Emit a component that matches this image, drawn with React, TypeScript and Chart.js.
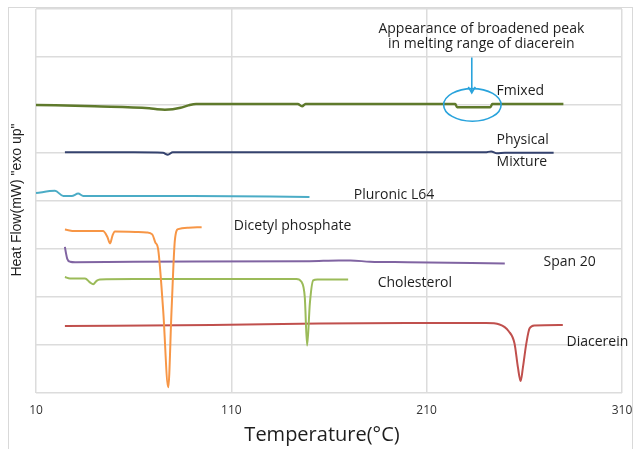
import React, { useEffect, useRef } from "react";
import { Chart, registerables } from "chart.js";

Chart.register(...registerables);

// ---- data (temperature °C, heat flow in arbitrary stacked units) ----
const xTicks = [10, 110, 210, 310];

const fmixedT = [10, 40, 68, 72, 76, 80, 84, 88, 92, 144, 146.2, 148, 224.6, 225.6, 242.6, 243.6, 280];
const fmixedV = [6.0, 5.97, 5.93, 5.91, 5.9, 5.91, 5.94, 5.99, 6.02, 6.02, 5.97, 6.02, 6.02, 5.95, 5.95, 6.02, 6.02];

const physT = [24.8, 60, 75, 77.5, 80, 150, 240, 243, 246, 250, 275];
const physV = [5.01, 5.01, 5.0, 4.96, 5.01, 5.01, 5.01, 5.03, 4.99, 5.0, 5.0];

const pluronicT = [10, 19.7, 24, 28.3, 31.6, 34.2, 90, 150];
const pluronicV = [4.16, 4.21, 4.1, 4.1, 4.15, 4.1, 4.1, 4.08];

const dicetylT = [24.8, 30, 44.3, 46.5, 47.9, 49.2, 50.4, 62, 66.6, 69.5, 71, 72.6, 75.1, 77.7, 79.4, 81.1, 82.8, 88, 94.8];
const dicetylV = [3.4, 3.37, 3.37, 3.25, 3.11, 3.28, 3.36, 3.35, 3.34, 3.3, 3.14, 2.97, 1.72, 0.11, 1.72, 3.18, 3.41, 3.44, 3.45];

const spanT = [24.8, 25.3, 26, 27.5, 30, 60, 150, 165, 171, 181, 200, 250];
const spanV = [3.04, 2.92, 2.79, 2.73, 2.72, 2.73, 2.74, 2.755, 2.755, 2.73, 2.72, 2.69];

const cholT = [24.8, 27.4, 35.1, 37.6, 39.3, 41, 42.7, 60, 143.3, 145.9, 147.6, 148.8, 150.2, 151.9, 154, 169.8];
const cholV = [2.41, 2.38, 2.38, 2.3, 2.26, 2.33, 2.36, 2.37, 2.37, 2.31, 1.99, 0.98, 1.86, 2.34, 2.36, 2.36];

const diacT = [24.8, 100, 155, 200, 240.5, 247.3, 252, 255, 256.7, 258.1, 259.3, 261, 262.7, 265.2, 279.7];
const diacV = [1.39, 1.41, 1.44, 1.45, 1.45, 1.42, 1.28, 1.02, 0.53, 0.24, 0.53, 1.02, 1.34, 1.4, 1.41];

const seriesColors = ["#5f7a2c", "#34426e", "#4bacc6", "#f79646", "#8064a2", "#9bbb59", "#c0504d"];

// curve labels anchored in data coordinates
const curveLabels: { text: string; t: number; v: number }[] = [
  { text: "Fmixed", t: 245.8, v: 6.28 },
  { text: "Physical", t: 245.8, v: 5.27 },
  { text: "Mixture", t: 245.8, v: 4.81 },
  { text: "Pluronic L64", t: 172.7, v: 4.12 },
  { text: "Dicetyl phosphate", t: 111.3, v: 3.47 },
  { text: "Span 20", t: 269.8, v: 2.72 },
  { text: "Cholesterol", t: 184.9, v: 2.28 },
  { text: "Diacerein", t: 281.6, v: 1.05 },
];
const noteLines = ["Appearance of broadened peak", "in melting range of diacerein"];

const FONT = "'Open Sans', 'DejaVu Sans', sans-serif";

function pts(t: number[], v: number[]) {
  return t.map((x, i) => ({ x, y: v[i] }));
}

const overlay = {
  id: "overlay",
  afterDatasetsDraw(chart: any) {
    const { ctx, scales } = chart;
    const xs = scales.x;
    const ys = scales.y;
    const px = (t: number) => xs.getPixelForValue(t);
    const py = (v: number) => ys.getPixelForValue(v);
    ctx.save();
    ctx.fillStyle = "#1e1e1e";
    ctx.font = `14px ${FONT}`;
    ctx.textBaseline = "middle";
    ctx.textAlign = "left";
    curveLabels.forEach((l) => ctx.fillText(l.text, px(l.t), py(l.v)));

    // annotation note
    ctx.textAlign = "center";
    ctx.fillText(noteLines[0], px(238), py(7.59));
    ctx.fillText(noteLines[1], px(238), py(7.26));

    // arrow + ellipse
    ctx.strokeStyle = "#29a3dc";
    ctx.lineWidth = 1.6;
    const ax = px(233.1);
    const y1 = py(6.99);
    const y2 = py(6.25);
    ctx.beginPath();
    ctx.moveTo(ax, y1);
    ctx.lineTo(ax, y2);
    ctx.moveTo(ax - 3.5, y2 - 6);
    ctx.lineTo(ax, y2);
    ctx.lineTo(ax + 3.5, y2 - 6);
    ctx.stroke();
    const cx = px(233.4);
    const cy = py(6.0);
    const rx = px(233.4 + 14.7) - cx;
    const ry = py(6.0) - py(6.0 + 0.34);
    ctx.beginPath();
    ctx.ellipse(cx, cy, rx, ry, 0, 0, Math.PI * 2);
    ctx.stroke();

    // axis titles
    ctx.fillStyle = "#1e1e1e";
    ctx.textAlign = "center";
    ctx.textBaseline = "alphabetic";
    ctx.font = `20px ${FONT}`;
    ctx.fillText("Temperature(°C)", 322, 441);
    ctx.translate(17, 200);
    ctx.rotate(-Math.PI / 2);
    ctx.textBaseline = "middle";
    ctx.font = `14px 'Liberation Sans', Arial, sans-serif`;
    ctx.fillText('Heat Flow(mW) "exo up"', 0, 0);
    ctx.restore();
  },
};

export default function App() {
  const ref = useRef<HTMLCanvasElement>(null);
  useEffect(() => {
    document.body.style.margin = "0";
    const all = [
      pts(fmixedT, fmixedV),
      pts(physT, physV),
      pts(pluronicT, pluronicV),
      pts(dicetylT, dicetylV),
      pts(spanT, spanV),
      pts(cholT, cholV),
      pts(diacT, diacV),
    ];
    const names = ["Fmixed", "Physical Mixture", "Pluronic L64", "Dicetyl phosphate", "Span 20", "Cholesterol", "Diacerein"];
    const chart = new Chart(ref.current!, {
      type: "line",
      data: {
        datasets: all.map((d, i) => ({
          label: names[i],
          data: d,
          borderColor: seriesColors[i],
          borderWidth: i === 0 ? 2.5 : 2,
          pointRadius: 0,
          fill: false,
          cubicInterpolationMode: "monotone" as const,
        })),
      },
      options: {
        responsive: false,
        animation: false,
        layout: { padding: { left: 36, top: 9, right: 15, bottom: 20 } },
        plugins: { legend: { display: false }, tooltip: { enabled: false } },
        scales: {
          x: {
            type: "linear",
            min: 10,
            max: 310,
            afterBuildTicks: (s: any) => {
              s.ticks = xTicks.map((value) => ({ value }));
            },
            afterFit: (s: any) => {
              s.paddingLeft = 0;
              s.paddingRight = 0;
            },
            ticks: { font: { family: FONT, size: 12 }, color: "#333", padding: 11 },
            grid: { color: "#dcdcdc", lineWidth: 1.5, drawTicks: false },
            border: { display: false },
          },
          y: {
            min: 0,
            max: 8,
            ticks: { display: false, stepSize: 1 },
            grid: { color: "#dcdcdc", lineWidth: 1.5, drawTicks: false },
            border: { display: false },
          },
        },
      },
      plugins: [overlay],
    });
    return () => chart.destroy();
  }, []);
  return (
    <div style={{ position: "relative", width: 637, height: 449, overflow: "hidden", background: "#fff" }}>
      <div
        style={{
          position: "absolute",
          left: 8,
          top: 7,
          width: 625,
          height: 470,
          border: "1px solid #d9d9d9",
          boxSizing: "border-box",
        }}
      />
      <canvas ref={ref} width={637} height={449} style={{ position: "absolute", left: 0, top: 0 }} />
    </div>
  );
}
